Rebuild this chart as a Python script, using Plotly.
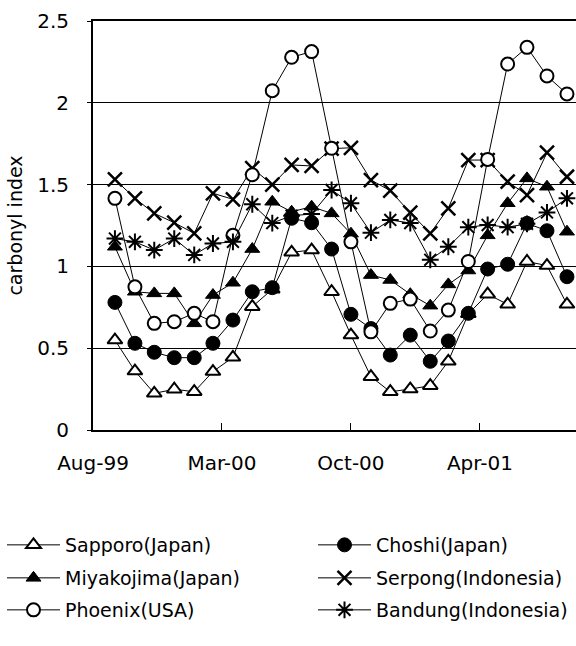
import plotly.graph_objects as go

# ---- data -------------------------------------------------------------
months = ["1999-10-01", "1999-11-01", "1999-12-01", "2000-01-01", "2000-02-01", "2000-03-01",
          "2000-04-01", "2000-05-01", "2000-06-01", "2000-07-01", "2000-08-01", "2000-09-01",
          "2000-10-01", "2000-11-01", "2000-12-01", "2001-01-01", "2001-02-01", "2001-03-01",
          "2001-04-01", "2001-05-01", "2001-06-01", "2001-07-01", "2001-08-01", "2001-09-01"]

sapporo = [0.55, 0.36, 0.224, 0.249, 0.234, 0.357, 0.444, 0.754, 0.86, 1.086, 1.10, 0.845,
           0.58, 0.326, 0.234, 0.25, 0.271, 0.42, 0.71, 0.83, 0.768, 1.03, 1.005, 0.768]
choshi = [0.78, 0.53, 0.475, 0.442, 0.442, 0.53, 0.672, 0.845, 0.87, 1.294, 1.267, 1.106,
          0.707, 0.62, 0.458, 0.58, 0.42, 0.544, 0.713, 0.984, 1.013, 1.263, 1.218, 0.937]
miyakojima = [1.12, 0.845, 0.835, 0.835, 0.652, 0.825, 0.90, 1.106, 1.395, 1.334, 1.365, 1.324,
              1.20, 0.947, 0.917, 0.83, 0.76, 0.89, 0.975, 1.19, 1.386, 1.538, 1.487, 1.212]
serpong = [1.532, 1.416, 1.324, 1.267, 1.202, 1.447, 1.41, 1.60, 1.50, 1.62, 1.614, 1.72,
           1.725, 1.528, 1.463, 1.328, 1.202, 1.355, 1.65, 1.65, 1.518, 1.436, 1.695, 1.548]
phoenix = [1.416, 0.875, 0.652, 0.662, 0.713, 0.662, 1.19, 1.56, 2.074, 2.278, 2.313, 1.722,
           1.15, 0.60, 0.774, 0.80, 0.605, 0.733, 1.03, 1.654, 2.237, 2.339, 2.164, 2.054]
bandung = [1.17, 1.15, 1.10, 1.17, 1.07, 1.14, 1.15, 1.38, 1.265, 1.31, 1.32, 1.467,
           1.386, 1.206, 1.284, 1.265, 1.04, 1.12, 1.24, 1.253, 1.24, 1.26, 1.33, 1.416]

names = ["Sapporo(Japan)", "Choshi(Japan)", "Miyakojima(Japan)",
         "Serpong(Indonesia)", "Phoenix(USA)", "Bandung(Indonesia)"]
values = [sapporo, choshi, miyakojima, serpong, phoenix, bandung]

tick_dates = ["1999-08-28", "2000-03-15", "2000-10-01", "2001-04-19"]
tick_labels = ["Aug-99", "Mar-00", "Oct-00", "Apr-01"]
x_range = ["1999-08-28", "2001-09-15"]

# ---- style ------------------------------------------------------------
FONT = "DejaVu Sans, Liberation Sans, Arial, sans-serif"
markers = [
    dict(symbol="triangle-up", size=13, color="white", line=dict(color="black", width=2)),
    dict(symbol="circle", size=14, color="black", line=dict(color="black", width=1)),
    dict(symbol="triangle-up", size=13, color="black", line=dict(color="black", width=1)),
    dict(symbol="x-thin", size=14, color="black", line=dict(color="black", width=2.5)),
    dict(symbol="circle", size=13, color="white", line=dict(color="black", width=2)),
    dict(symbol="asterisk", size=14, color="black", line=dict(color="black", width=2)),
]
legend_ids = ["legend", "legend2", "legend3", "legend4", "legend5", "legend6"]

fig = go.Figure()
for name, vals, mk, lg in zip(names, values, markers, legend_ids):
    fig.add_trace(go.Scatter(
        x=months, y=vals, name=name, mode="lines+markers",
        line=dict(color="black", width=1), marker=mk, legend=lg, cliponaxis=False,
    ))

# legend placement (pixel -> paper conversion)
plot_left, plot_right, plot_top, plot_bottom = 93, 576, 21, 430
def px_x(p):
    return (p - plot_left) / (plot_right - plot_left)
def px_y(p):
    return (plot_bottom - p) / (plot_bottom - plot_top)

col_x = [2, 313]
row_y = [545, 578, 610]
legend_layout = {}
for k, lg in enumerate(legend_ids):
    legend_layout[lg] = dict(
        x=px_x(col_x[k % 2]), y=px_y(row_y[k // 2]), xanchor="left", yanchor="middle",
        orientation="h", bgcolor="rgba(0,0,0,0)", borderwidth=0,
        font=dict(family=FONT, size=19, color="black"),
        itemwidth=53,
    )

fig.update_layout(
    width=576, height=646,
    margin=dict(l=plot_left, r=0, t=plot_top, b=646 - plot_bottom, pad=0),
    paper_bgcolor="white", plot_bgcolor="white",
    font=dict(family=FONT, size=20, color="black"),
    showlegend=True,
    **legend_layout,
)

fig.update_xaxes(
    type="date", range=x_range, tickvals=tick_dates, ticktext=tick_labels,
    ticks="inside", ticklen=7, tickwidth=1, tickcolor="black",
    showline=True, linecolor="black", linewidth=2, mirror=True,
    showgrid=False, zeroline=False, ticklabelstandoff=14,
    tickfont=dict(family=FONT, size=20, color="black"),
)
fig.update_yaxes(
    range=[0, 2.5], tickvals=[0, 0.5, 1, 1.5, 2, 2.5], ticktext=["0", "0.5", "1", "1.5", "2", "2.5"],
    ticks="outside", ticklen=4, tickcolor="black",
    showline=True, linecolor="black", linewidth=2,
    showgrid=True, gridcolor="black", gridwidth=1, zeroline=False,
    ticklabelstandoff=14,
    tickfont=dict(family=FONT, size=20, color="black"),
    title=dict(text="carbonyl index", font=dict(family=FONT, size=19, color="black"), standoff=10),
)

fig.write_html("out.html")
